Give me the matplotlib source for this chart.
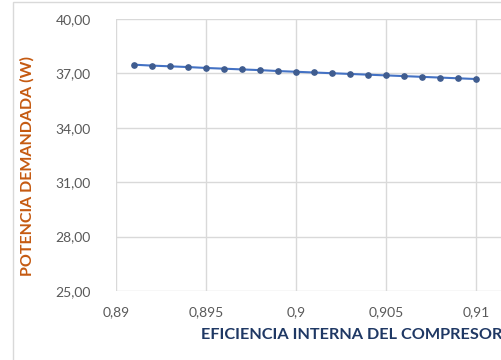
import matplotlib
matplotlib.use("Agg")
import matplotlib.pyplot as plt
from matplotlib.patches import Rectangle
from matplotlib.ticker import FuncFormatter

# Compressor internal efficiency vs demanded power
eficiencia = [0.891, 0.892, 0.893, 0.894, 0.895, 0.896, 0.897, 0.898, 0.899, 0.900,
              0.901, 0.902, 0.903, 0.904, 0.905, 0.906, 0.907, 0.908, 0.909, 0.910]
potencia = [37.48, 37.43, 37.39, 37.35, 37.30, 37.26, 37.22, 37.18, 37.13, 37.09,
            37.05, 37.01, 36.97, 36.93, 36.89, 36.85, 36.81, 36.77, 36.73, 36.69]
yticks = [25, 28, 31, 34, 37, 40]
xticks = [0.89, 0.895, 0.9, 0.905, 0.91]

plt.rcParams["font.family"] = ["Lato", "DejaVu Sans"]

fig = plt.figure(figsize=(5.01, 3.6), dpi=100)

# chart frame
fig.patches.append(Rectangle((13 / 501, -0.1), 1.2, 1.1 - 2 / 360, transform=fig.transFigure,
                             fill=False, edgecolor="#D9D9D9", linewidth=1.0))

ax = fig.add_axes([116 / 501, 1 - 291 / 360, 450 / 501, 272 / 360])
ax.plot(eficiencia, potencia, color="#4472C4", linewidth=1.5, marker="o",
        markersize=3.8, markerfacecolor="#3F5C8F", markeredgecolor="#3F5C8F")

ax.set_xlim(0.89, 0.915)
ax.set_ylim(25, 40)
ax.set_xticks(xticks)
ax.set_yticks(yticks)
ax.xaxis.set_major_formatter(FuncFormatter(lambda v, p: f"{v:g}".replace(".", ",")))
ax.yaxis.set_major_formatter(FuncFormatter(lambda v, p: f"{v:.2f}".replace(".", ",")))
ax.tick_params(axis="y", length=0, labelsize=10, labelcolor="#595959", pad=18)
ax.tick_params(axis="x", length=0, labelsize=10, labelcolor="#595959", pad=11)
ax.grid(True, color="#D9D9D9", linewidth=1.0)
ax.set_axisbelow(True)
for s in ax.spines.values():
    s.set_visible(False)

ax.set_ylabel("POTENCIA DEMANDADA (W)", color="#C55A11", fontweight="bold", fontsize=11.5)
ax.yaxis.set_label_coords(-0.18, 0.46)
ax.set_xlabel("EFICIENCIA INTERNA DEL COMPRESOR", color="#1F3864", fontweight="bold", fontsize=11.7)
ax.xaxis.set_label_coords(0.524, -0.135)

fig.savefig("out.png", dpi=100)
